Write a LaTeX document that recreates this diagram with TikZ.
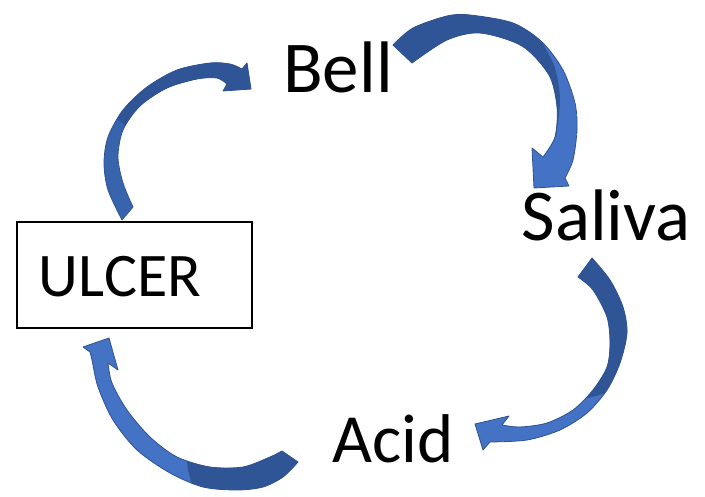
\documentclass[tikz,border=0pt]{standalone}
\usepackage{fontspec}
\setmainfont{Carlito}
\definecolor{arrdark}{HTML}{2F5597}
\definecolor{arrlight}{HTML}{4472C4}
\definecolor{arrmid}{HTML}{3764AD}
\definecolor{arrline}{HTML}{2F528F}
\begin{document}
\begin{tikzpicture}[x=1pt,y=-1pt,
  word/.style={inner sep=0pt, anchor=base, font=\fontsize{73}{80}\selectfont},
  boxword/.style={inner sep=0pt, anchor=base, font=\fontsize{62}{70}\selectfont},
  arrowedge/.style={draw=arrline, line width=0.8pt, line join=round}]
\useasboundingbox (0,0) rectangle (705,497);
\fill[white] (0,0) rectangle (705,497);

% texts
\node[word] (bell) at (338,93) {Bell};
\node[word] (saliva) at (606,241) {Saliva};
\node[word, font=\fontsize{69}{76}\selectfont] (acid) at (393,462) {Acid};
\draw[line width=2pt] (17,222) rectangle (252,328);
\node[boxword] (ulcer) at (120,297) {ULCER};

% arrow 1: Bell -> Saliva
\def\arrA{(393,45) -- plot[smooth] coordinates {(393,45) (413,28) (447,16) (470,15) (513,23) (542,42) (563,70) (575,103) (577,130) (573,160) (565,178)}
  -- (569,186) -- (534,188) -- (532,148)
  -- plot[smooth] coordinates {(543,157) (555,137) (557,107) (549,75) (522,46) (480,33) (447,40) (412,63)} -- cycle}
\begin{scope}
  \clip \arrA;
  \fill[arrlight] \arrA;
  \fill[arrdark] (380,110) -- (380,0) -- (530,0) -- plot[smooth] coordinates {(530,0) (536,30) (542,42) (555,68) (560,100) (556,137)} -- (540,137) -- (500,110) -- cycle;
\end{scope}
\draw[arrowedge] \arrA;

% arrow 2: ULCER -> Bell
\def\arrB{(122,220) -- plot[smooth] coordinates {(122,220) (108,190) (104,163) (108,137) (123,110) (147,87) (177,70) (210,63) (230,64) (242,69)}
  -- (247,63) -- (251,89) -- (223,91)
  -- plot[smooth] coordinates {(227,84) (217,78) (197,79) (167,88) (140,106) (123,130) (118,157) (123,183) (133,207)} -- cycle}
\begin{scope}
  \clip \arrB;
  \fill[arrmid] \arrB;
  \fill[arrdark] (90,100) -- (140,60) -- (260,40) -- (260,110) -- (150,110) -- (125,125) -- cycle;
\end{scope}
\draw[arrowedge] \arrB;

% arrow 3: Saliva -> Acid
\def\arrC{(592,258) -- plot[smooth] coordinates {(592,258) (610,280) (623,307) (627,333) (620,363) (607,390) (587,413) (560,430) (527,440) (490,442)}
  -- (483,450) -- (475,424) -- (509,416)
  -- plot[smooth] coordinates {(502,425) (520,427) (547,423) (573,410) (593,390) (607,367) (610,343) (607,317) (593,290) (578,277)} -- cycle}
\begin{scope}
  \clip \arrC;
  \fill[arrlight] \arrC;
  \fill[arrdark] (560,240) -- (660,240) -- (660,370) -- (610,392) -- (588,398) -- (560,380) -- cycle;
\end{scope}
\draw[arrowedge] \arrC;

% arrow 4: Acid -> ULCER
\def\arrD{(298,462) -- plot[smooth] coordinates {(298,462) (283,477) (263,487) (237,490) (203,487) (170,473) (137,450) (113,420) (98,387) (92,360) (90,352)}
  -- (83,347) -- (109,338) -- (118,370)
  -- plot[smooth] coordinates {(108,363) (112,383) (127,410) (150,437) (177,457) (210,467) (243,467) (270,457) (282,451)} -- cycle}
\begin{scope}
  \clip \arrD;
  \fill[arrlight] \arrD;
  \fill[arrdark] (310,430) -- (310,497) -- (195,497) -- (188,470) -- (185,445) -- cycle;
\end{scope}
\draw[arrowedge] \arrD;
\end{tikzpicture}
\end{document}
